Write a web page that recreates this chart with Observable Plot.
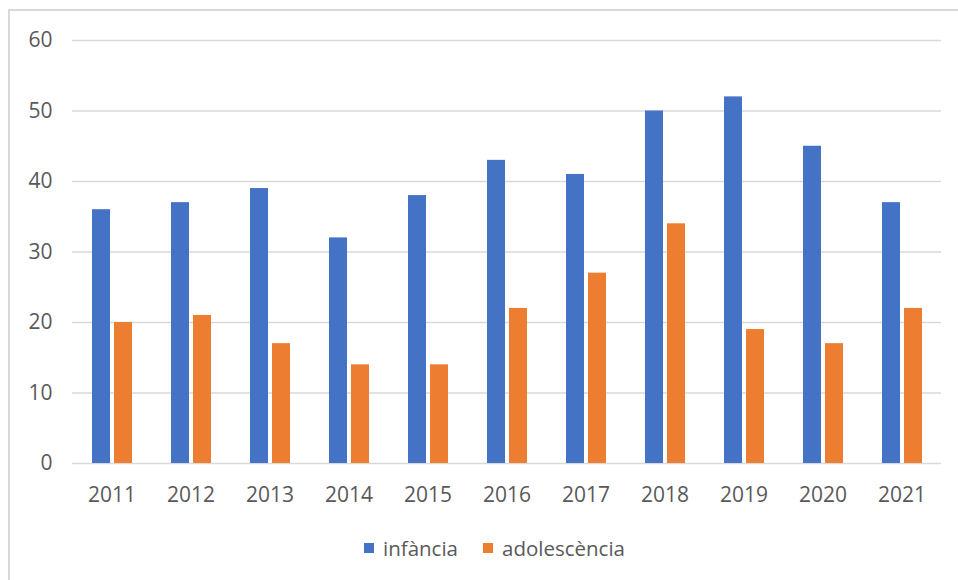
<!DOCTYPE html>
<html>
<head>
<meta charset="utf-8">
<script src="https://cdn.jsdelivr.net/npm/d3@7"></script>
<script src="https://cdn.jsdelivr.net/npm/@observablehq/plot@0.6"></script>
<style>
  html, body { margin: 0; padding: 0; background: #fff; }
  #wrap { position: relative; width: 958px; height: 580px; overflow: hidden; font-family: "Open Sans", sans-serif; }
  #frame { position: absolute; left: 8px; top: 9px; width: 1000px; height: 700px; border-left: 2px solid #d9d9d9; border-top: 2px solid #d9d9d9; pointer-events: none; }
  #chart { position: absolute; left: 0; top: 0; }
  #legend { position: absolute; left: 0; top: 534px; width: 958px; box-sizing: border-box; padding-left: 31px; display: flex; justify-content: center; align-items: center; font-size: 20.5px; color: #595959; }
  .item { display: flex; align-items: center; }
  .sw { width: 10px; height: 10px; margin-right: 9px; }
</style>
</head>
<body>
<div id="wrap">
  <div id="chart"></div>
  <div id="frame"></div>
  <div id="legend"></div>
</div>
<script>
const years = [2011, 2012, 2013, 2014, 2015, 2016, 2017, 2018, 2019, 2020, 2021];
const infancia = [36, 37, 39, 32, 38, 43, 41, 50, 52, 45, 37];
const adolescencia = [20, 21, 17, 14, 14, 22, 27, 34, 19, 17, 22];
const seriesNames = ["infància", "adolescència"];
const seriesColors = ["#4472C4", "#ED7D31"];
const yTicks = [0, 10, 20, 30, 40, 50, 60];

const rows = [];
years.forEach((yr, i) => {
  rows.push({year: String(yr), series: seriesNames[0], value: infancia[i]});
  rows.push({year: String(yr), series: seriesNames[1], value: adolescencia[i]});
});

const chart = Plot.plot({
  width: 958,
  height: 520,
  marginTop: 40,
  marginBottom: 57,
  marginLeft: 68,
  marginRight: 13,
  style: {fontFamily: "Open Sans, sans-serif", fontSize: "21px", color: "#595959", background: "transparent"},
  facet: {data: rows, x: "year"},
  fx: {domain: years.map(String), padding: 0, axis: "bottom", tickSize: 0, tickPadding: 24, label: null},
  x: {domain: seriesNames, paddingInner: 0.19, paddingOuter: 0.82, axis: null},
  y: {domain: [0, 60], ticks: 6, tickSize: 0, tickPadding: 20, label: null},
  color: {domain: seriesNames, range: seriesColors},
  marks: [
    Plot.ruleY(yTicks, {stroke: "#d9d9d9", strokeWidth: 1.5}),
    Plot.barY(rows, {x: "series", y: "value", fill: "series"})
  ]
});
document.getElementById("chart").appendChild(chart);

const legend = document.getElementById("legend");
seriesNames.forEach((name, i) => {
  const item = document.createElement("div");
  item.className = "item";
  if (i > 0) item.style.marginLeft = "25px";
  const sw = document.createElement("div");
  sw.className = "sw";
  sw.style.background = seriesColors[i];
  const t = document.createElement("span");
  t.textContent = name;
  item.appendChild(sw);
  item.appendChild(t);
  legend.appendChild(item);
});
</script>
</body>
</html>
